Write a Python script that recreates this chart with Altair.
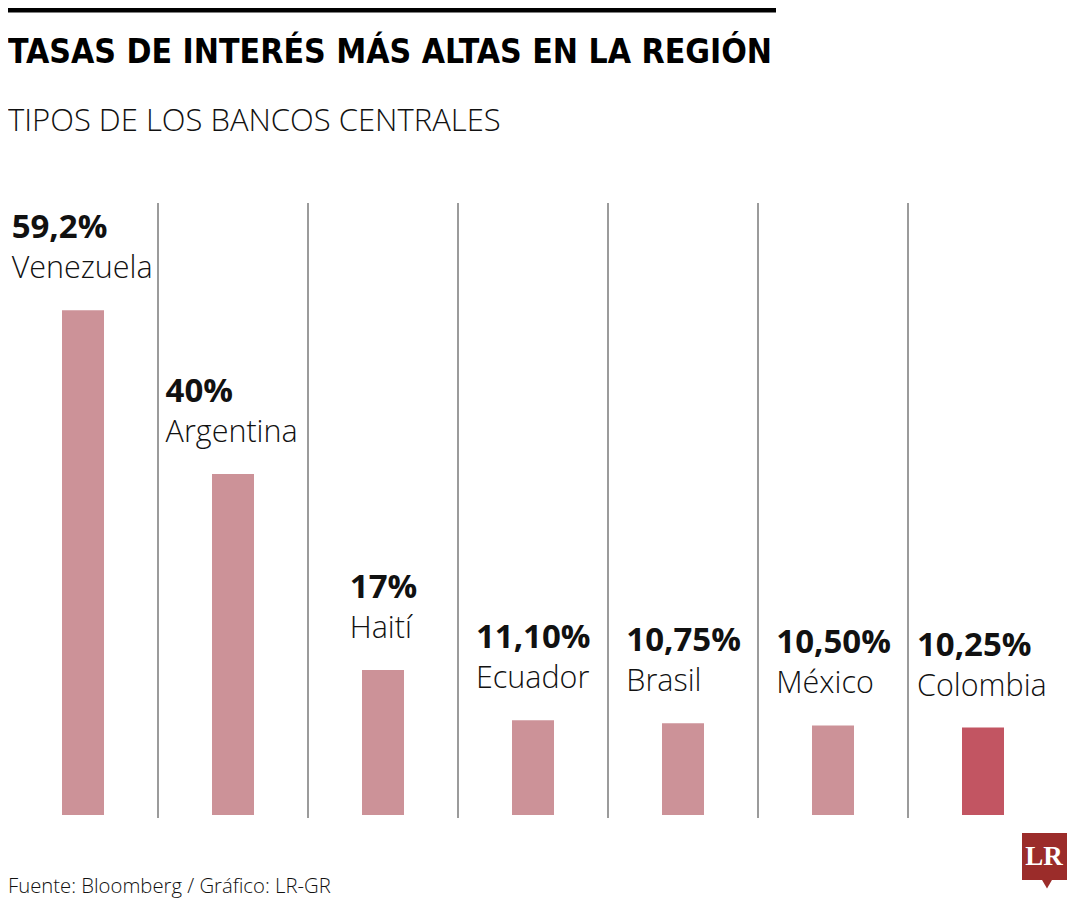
import altair as alt
import pandas as pd

# ---- data ----
paises = ["Venezuela", "Argentina", "Haití", "Ecuador", "Brasil", "México", "Colombia"]
valores = [59.2, 40.0, 17.0, 11.10, 10.75, 10.50, 10.25]
etiquetas = ["59,2%", "40%", "17%", "11,10%", "10,75%", "10,50%", "10,25%"]
destacado = "Colombia"

titulo = "TASAS DE INTERÉS MÁS ALTAS EN LA REGIÓN"
subtitulo = "TIPOS DE LOS BANCOS CENTRALES"
fuente = "Fuente: Bloomberg / Gráfico: LR-GR"

# ---- styling ----
COLOR_BAR = "#CC9298"
COLOR_HI = "#C25562"
VAL_SIZE = 33
NAME_SIZE = 30.5
W, H = 1050, 614
STEP = W / len(paises)

# rough glyph widths (em) used to centre each left-aligned label block on its bar
BOLD_W = {**{d: 0.572 for d in "0123456789"}, ",": 0.28, "%": 0.87}
LIGHT_W = {"A": .60, "r": .40, "g": .53, "e": .55, "n": .60, "t": .35, "i": .24, "a": .55,
           "V": .57, "z": .47, "u": .60, "l": .24, "H": .68, "í": .24, "E": .52, "c": .47,
           "d": .60, "o": .60, "B": .60, "s": .45, "M": .80, "é": .55, "x": .50, "C": .60,
           "m": .90, "b": .60}


def text_w(s, table, size):
    return sum(table.get(ch, 0.55) for ch in s) * size


df = pd.DataFrame({"pais": paises, "valor": valores, "etiqueta": etiquetas})
df["color"] = [COLOR_HI if p == destacado else COLOR_BAR for p in paises]
# offset from the band start so that the label block is centred on the bar
df["off"] = [
    STEP / 2 - max(text_w(e, BOLD_W, VAL_SIZE), text_w(p, LIGHT_W, NAME_SIZE)) / 2
    for e, p in zip(etiquetas, paises)
]

xscale = alt.Scale(paddingInner=0, paddingOuter=0)
x = alt.X("pais:N", sort=paises, axis=None, scale=xscale)
y = alt.Y("valor:Q", axis=None, scale=alt.Scale(domain=[0, 72]))

base = alt.Chart(df)

bars = base.mark_bar(width=42).encode(
    x=x, y=y, color=alt.Color("color:N", scale=None)
)

seps = base.transform_filter(f"datum.pais != '{paises[-1]}'").mark_rule(
    color="#7a7a7a", strokeWidth=1.5
).encode(
    x=alt.X("pais:N", sort=paises, axis=None, scale=xscale, bandPosition=1),
    y=alt.value(2),
    y2=alt.value(617),
)

vals = base.mark_text(
    align="left", baseline="alphabetic", dy=-72, font="Open Sans",
    fontWeight="bold", fontSize=VAL_SIZE, color="#111111"
).encode(x=x, xOffset=alt.XOffset("off:Q", scale=None), y=y, text="etiqueta:N")

names = base.mark_text(
    align="left", baseline="alphabetic", dy=-32, font="Open Sans",
    fontWeight=300, fontSize=NAME_SIZE, color="#111111"
).encode(x=x, xOffset=alt.XOffset("off:Q", scale=None), y=y, text="pais:N")

# ---- header / footer decorations ----
top_bar = alt.Chart(pd.DataFrame({"k": [0]})).mark_rule(color="#000000", strokeWidth=7).encode(
    x=alt.value(0), x2=alt.value(768), y=alt.value(-192)
)

title = alt.Chart(pd.DataFrame({"t": [titulo]})).mark_text(
    align="left", baseline="alphabetic", font="DejaVu Sans Condensed, sans-serif",
    fontWeight="bold", fontSize=33.5, color="#000000"
).encode(x=alt.value(0), y=alt.value(-138), text="t:N")

subtitle = alt.Chart(pd.DataFrame({"t": [subtitulo]})).mark_text(
    align="left", baseline="alphabetic", font="Open Sans",
    fontWeight=300, fontSize=31, color="#111111"
).encode(x=alt.value(0), y=alt.value(-70), text="t:N")

footer = alt.Chart(pd.DataFrame({"t": [fuente]})).mark_text(
    align="left", baseline="alphabetic", font="Open Sans",
    fontWeight=300, fontSize=20.3, color="#111111"
).encode(x=alt.value(0), y=alt.value(692), text="t:N")

logo_box = alt.Chart(pd.DataFrame({"k": [0]})).mark_rect(color="#9B2C2A").encode(
    x=alt.value(1014), x2=alt.value(1059), y=alt.value(632), y2=alt.value(679)
)
logo_tail = alt.Chart(pd.DataFrame({"k": [0]})).mark_point(
    shape="triangle-down", filled=True, size=110, color="#9B2C2A", opacity=1
).encode(x=alt.value(1039), y=alt.value(683))
logo_txt = alt.Chart(pd.DataFrame({"t": ["LR"]})).mark_text(
    align="center", baseline="middle", font="Liberation Serif", fontWeight="bold",
    fontSize=27, color="#ffffff"
).encode(x=alt.value(1036), y=alt.value(656), text="t:N")

chart = alt.layer(
    seps, bars, vals, names, top_bar, title, subtitle, footer, logo_box, logo_tail, logo_txt
).properties(
    width=W, height=H, autosize=alt.AutoSizeParams(type="none"),
    padding={"left": 0, "top": 193, "right": 14, "bottom": 90},
    background="#ffffff",
).configure_view(stroke=None)

chart.save("out.html", embed_options={"renderer": "svg", "actions": False})
